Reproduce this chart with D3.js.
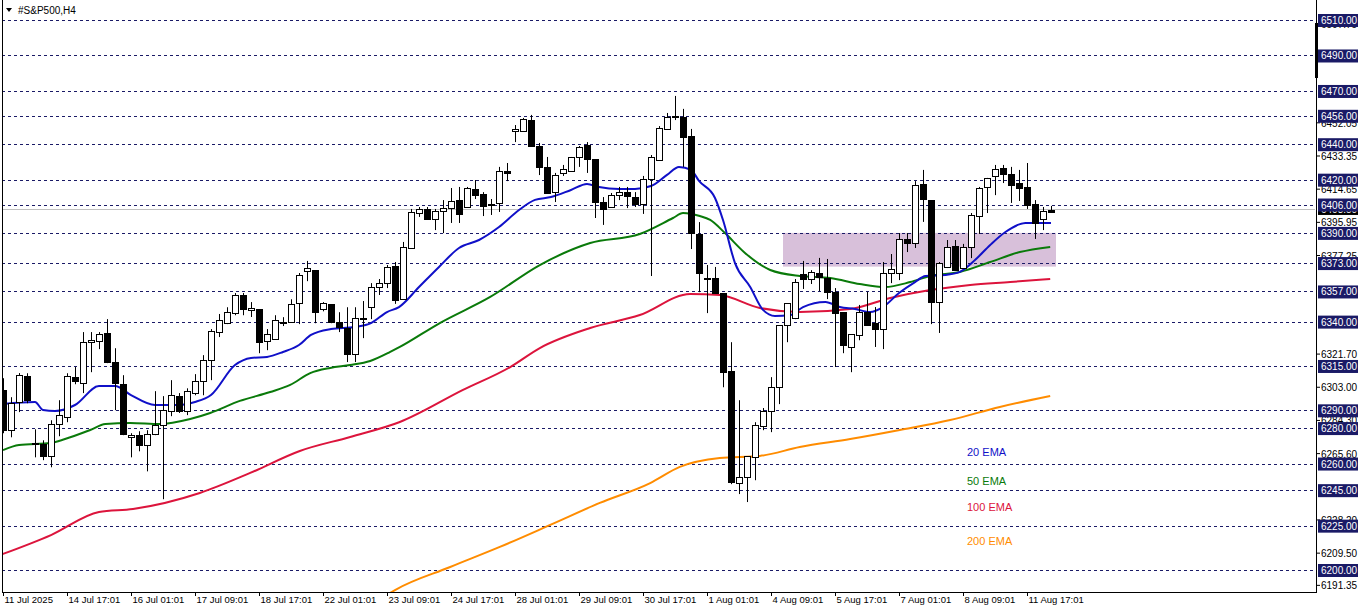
<!DOCTYPE html>
<html><head><meta charset="utf-8">
<script src="https://cdn.jsdelivr.net/npm/d3@7"></script>
<style>body{margin:0;background:#fff}svg{display:block;font-family:"Liberation Sans",Arial,sans-serif}</style>
</head><body><svg id="c" width="1362" height="611"></svg>
<script>
const opens=[6301.3,6278.8,6294.6,6309.2,6271.4,6270.9,6264.1,6282.2,6286.1,6308.6,6305.3,6328.4,6329.0,6333.5,6317.2,6304.7,6274.8,6276.0,6270.3,6276.5,6281.6,6289.5,6298.0,6289.5,6299.7,6306.4,6318.3,6334.1,6339.1,6344.8,6355.0,6346.5,6347.0,6329.0,6330.1,6339.7,6339.7,6350.4,6368.5,6369.0,6347.0,6349.9,6339.7,6336.3,6321.6,6341.4,6348.1,6359.5,6361.7,6371.3,6352.7,6381.5,6401.2,6403.5,6397.8,6402.4,6404.0,6408.5,6404.6,6414.7,6411.9,6406.3,6406.9,6424.9,6447.4,6447.4,6453.6,6439.0,6427.2,6413.0,6423.8,6424.9,6432.8,6439.5,6431.6,6407.4,6404.6,6411.3,6413.0,6410.2,6406.3,6420.4,6431.1,6448.6,6455.9,6455.3,6444.6,6389.4,6364.6,6364.6,6356.1,6312.1,6249.0,6252.4,6263.5,6281.1,6289.5,6303.0,6338.0,6342.0,6366.8,6364.0,6367.4,6364.6,6356.6,6345.4,6325.7,6332.5,6345.4,6339.2,6335.8,6367.4,6367.4,6386.6,6384.3,6417.6,6408.5,6351.1,6370.8,6382.6,6370.2,6382.0,6399.6,6415.9,6422.1,6426.6,6423.2,6418.1,6415.9,6406.3,6397.8,6402.9];
const highs=[6308.1,6297.4,6311.0,6310.9,6279.3,6273.1,6284.4,6295.7,6310.9,6314.4,6334.1,6334.1,6334.1,6341.4,6325.0,6309.8,6277.1,6278.2,6278.8,6300.8,6298.0,6307.0,6299.7,6302.4,6310.4,6321.1,6335.8,6344.3,6348.1,6356.1,6356.1,6351.0,6347.0,6335.8,6343.6,6342.5,6352.6,6367.4,6374.2,6369.0,6351.0,6349.9,6345.3,6348.1,6348.1,6351.6,6361.7,6364.0,6371.9,6373.6,6384.9,6403.5,6404.6,6404.6,6403.5,6408.5,6415.3,6415.9,6415.9,6419.8,6413.0,6409.1,6427.2,6429.4,6450.8,6454.8,6456.5,6440.7,6432.8,6423.8,6428.3,6432.8,6439.0,6441.2,6431.6,6410.2,6412.5,6415.9,6415.9,6413.0,6422.1,6433.9,6450.2,6457.6,6467.2,6459.9,6448.6,6396.1,6371.9,6370.8,6356.1,6328.4,6295.7,6264.1,6283.3,6291.3,6308.7,6338.0,6350.4,6364.0,6374.2,6369.0,6375.9,6375.3,6358.9,6345.4,6333.0,6349.4,6356.7,6348.2,6373.6,6378.1,6389.9,6389.9,6419.2,6425.5,6408.5,6373.6,6386.0,6386.0,6383.8,6401.2,6415.9,6421.0,6428.3,6428.3,6427.2,6425.5,6429.4,6408.5,6404.6,6405.2];
const lows=[6277.1,6274.8,6289.0,6294.0,6263.5,6261.9,6257.9,6275.4,6283.3,6304.7,6299.7,6311.5,6324.5,6316.6,6290.1,6276.0,6263.5,6266.9,6255.6,6276.0,6239.9,6286.7,6288.5,6287.3,6298.5,6298.5,6307.0,6331.3,6338.6,6343.6,6343.6,6342.6,6322.2,6323.9,6330.1,6337.5,6339.7,6338.6,6362.8,6339.1,6345.8,6339.1,6334.1,6317.2,6317.2,6330.7,6341.4,6355.0,6358.9,6350.0,6352.7,6381.5,6399.0,6397.8,6391.6,6389.9,6395.6,6395.6,6404.6,6409.1,6399.5,6400.1,6401.8,6419.2,6441.2,6447.4,6439.0,6422.6,6412.5,6407.4,6422.1,6424.9,6427.2,6423.8,6398.4,6394.5,6404.6,6408.5,6404.0,6404.6,6400.7,6365.7,6431.1,6453.6,6453.6,6427.2,6380.9,6356.6,6344.8,6356.1,6303.0,6248.4,6242.8,6238.3,6250.6,6278.8,6277.7,6293.5,6328.4,6341.4,6358.4,6361.2,6357.2,6352.7,6314.4,6322.2,6311.5,6329.5,6338.0,6325.7,6324.5,6361.7,6363.4,6379.2,6381.5,6396.2,6338.6,6333.6,6370.2,6369.0,6370.2,6375.8,6389.4,6401.2,6411.3,6418.1,6406.9,6408.0,6403.5,6386.6,6391.6,6401.8];
const closes=[6278.8,6294.0,6309.8,6295.7,6271.4,6264.1,6282.2,6287.3,6309.2,6306.4,6328.4,6329.5,6333.0,6317.2,6305.3,6276.5,6276.0,6270.3,6276.5,6281.6,6290.1,6298.5,6289.5,6300.8,6306.4,6318.3,6334.7,6340.8,6345.3,6355.0,6347.0,6347.6,6328.4,6333.0,6340.8,6339.7,6349.9,6366.2,6370.2,6345.3,6350.4,6339.7,6336.9,6321.6,6342.0,6342.0,6359.5,6361.7,6370.8,6352.1,6382.0,6401.7,6403.5,6397.8,6402.4,6404.0,6408.0,6400.7,6415.3,6411.3,6405.2,6406.3,6424.9,6423.8,6448.6,6454.2,6439.0,6427.2,6412.5,6422.6,6426.0,6432.8,6438.4,6431.6,6407.4,6403.5,6411.3,6413.0,6410.8,6406.3,6420.4,6432.8,6449.1,6455.3,6455.9,6444.0,6389.9,6367.4,6364.6,6356.1,6311.5,6249.5,6252.4,6264.1,6281.6,6289.5,6303.0,6338.0,6350.4,6362.3,6364.0,6367.9,6365.1,6356.6,6344.8,6326.8,6333.0,6345.4,6338.0,6335.8,6367.4,6369.6,6386.6,6384.3,6417.0,6409.1,6351.1,6373.0,6382.0,6369.0,6382.0,6400.1,6415.3,6421.0,6426.0,6423.2,6417.0,6415.3,6405.7,6395.6,6402.4,6401.8];
const ema20=[[0,6293.6],[4,6294.7],[5,6290.2],[6.5,6289.6],[9,6293.0],[12,6303.7],[14,6303.7],[16,6298.6],[19,6293.0],[22,6293.0],[24,6294.7],[26,6298.6],[29,6315.5],[31,6319.5],[33,6320.1],[35,6322.9],[37,6326.8],[38.5,6332.5],[41,6335.8],[44,6337.0],[46,6339.2],[48,6345.4],[49.5,6348.2],[52,6359.5],[54.5,6370.8],[57,6381.5],[59.5,6386.0],[62,6393.3],[64.5,6402.9],[66.5,6408.6],[68.5,6410.2],[71,6414.2],[73,6417.6],[74.5,6415.9],[77,6414.8],[79,6414.8],[81,6416.4],[83,6422.7],[84.5,6427.2],[86,6425.5],[87,6419.3],[89,6409.7],[90,6397.3],[91.5,6373.0],[93.4,6359.5],[95,6346.6],[96.5,6343.2],[98.4,6343.7],[100,6348.2],[102.8,6351.1],[104.6,6348.2],[106.5,6347.1],[108.4,6345.4],[110,6348.2],[112,6356.1],[114,6362.3],[115.3,6365.7],[117.8,6366.3],[119.6,6368.0],[121.5,6374.7],[123.4,6383.2],[125.3,6390.5],[127.8,6395.6],[131,6395.6]];
const ema50=[[0,6267.6],[2,6270.5],[6,6271.6],[7.75,6273.8],[10.9,6278.9],[12.8,6282.3],[15.9,6282.9],[19.6,6282.3],[23.4,6285.1],[25.9,6288.5],[29.6,6295.3],[33.4,6300.3],[35.9,6304.3],[38.4,6311.0],[40.9,6313.9],[43.4,6315.5],[45.9,6317.8],[48.4,6322.9],[49.6,6325.7],[54.6,6339.2],[60.9,6353.9],[67.1,6371.9],[73.4,6384.3],[79.6,6389.4],[83.75,6398.4],[85,6401.2],[87.1,6399.5],[88.4,6397.3],[90.25,6389.9],[92.75,6378.7],[95.9,6369.1],[99.6,6365.7],[103.4,6364.6],[107.1,6361.2],[110.25,6359.5],[113.4,6362.3],[115.9,6365.7],[119.6,6368.0],[123.4,6373.6],[127.1,6379.2],[130.9,6382.1]];
const ema100=[[-0.4,6208.4],[6,6219.7],[12,6232.7],[16.25,6234.4],[24.6,6243.4],[30.9,6254.7],[37.1,6267.1],[43.4,6275.0],[49.6,6283.4],[57.5,6301.5],[63.4,6314.4],[67.1,6325.1],[73.4,6336.4],[79.6,6343.7],[85.9,6355.6],[89.6,6355.0],[94.6,6347.7],[99.6,6345.4],[105.9,6347.1],[110.9,6353.3],[115.9,6357.8],[120.9,6360.7],[125.9,6362.3],[130.9,6364.0]];
const ema200=[[47,6183.0],[49,6188.7],[55.9,6201.7],[62.1,6213.0],[68.4,6225.4],[74.6,6237.8],[80.9,6249.0],[84.6,6258.1],[89.6,6263.1],[94.6,6264.3],[99.6,6269.3],[105.9,6273.8],[112.1,6278.9],[118.4,6284.5],[124.6,6291.9],[130.9,6298.1]];
const gridLevels=[6510,6490,6470,6456,6440,6420,6406,6390,6373,6357,6340,6315,6290,6280,6260,6245,6225,6200];
const scaleLabels=[6507.75,6489.05,6452.05,6433.35,6414.65,6395.95,6377.25,6321.70,6303.00,6284.30,6265.60,6228.20,6209.50,6191.35];
const lastPrice=6403.50;
const zone=[98,132,6371,6390];
const timeLabels=["11 Jul 2025","14 Jul 17:01","16 Jul 01:01","17 Jul 09:01","18 Jul 17:01","22 Jul 01:01","23 Jul 09:01","24 Jul 17:01","28 Jul 01:01","29 Jul 09:01","30 Jul 17:01","1 Aug 01:01","4 Aug 09:01","5 Aug 17:01","7 Aug 01:01","8 Aug 09:01","11 Aug 17:01"];
const emaLegend=[["20 EMA","#1010c8",452],["50 EMA","#0a7a0a",481],["100 EMA","#dc143c",507],["200 EMA","#ff8c00",541]];

const svg=d3.select("#c");
const W=1316,B=592;
const x=d3.scaleLinear().domain([0,1]).range([3,11]);
const y=d3.scaleLinear().domain([6200,6510]).range([570,20]);
svg.append("defs").append("clipPath").attr("id","cp").append("rect").attr("x",2).attr("y",0).attr("width",W-3).attr("height",B);
const g=svg.append("g").attr("clip-path","url(#cp)");
g.append("rect").attr("x",x(zone[0])-4).attr("width",x(zone[1])-x(zone[0])+1).attr("y",y(zone[3])).attr("height",y(zone[2])-y(zone[3])).attr("fill","#d8c0da");
gridLevels.forEach(v=>g.append("line").attr("x1",2).attr("x2",W-2).attr("y1",Math.round(y(v))+0.5).attr("y2",Math.round(y(v))+0.5).attr("stroke","#1a1a66").attr("stroke-dasharray","3,3"));
g.append("line").attr("x1",2).attr("x2",W).attr("y1",Math.round(y(lastPrice))+0.5).attr("y2",Math.round(y(lastPrice))+0.5).attr("stroke","#c0c0c0");
const line=d3.line().x(d=>x(d[0])).y(d=>y(d[1])).curve(d3.curveMonotoneX);
[[ema200,"#ff8c00"],[ema100,"#dc143c"],[ema50,"#0a7a0a"],[ema20,"#1010c8"]].forEach(([d,c])=>g.append("path").attr("d",line(d)).attr("fill","none").attr("stroke",c).attr("stroke-width",2));
opens.forEach((o,i)=>{
  const cx=Math.round(x(i))+0.5, c=closes[i];
  g.append("line").attr("x1",cx).attr("x2",cx).attr("y1",y(highs[i])).attr("y2",y(lows[i])).attr("stroke","#000");
  const t=Math.round(y(Math.max(o,c))), b=Math.round(y(Math.min(o,c)));
  g.append("rect").attr("x",cx-3).attr("y",t+0.5).attr("width",6).attr("height",Math.max(b-t,1)).attr("fill",c<o?"#000":"#fff").attr("stroke","#000").attr("stroke-width",1);
});
emaLegend.forEach(([t,c,yy])=>svg.append("text").attr("x",967).attr("y",yy+4).attr("fill",c).attr("font-size",11).text(t));
svg.append("line").attr("x1",2.5).attr("x2",2.5).attr("y1",0).attr("y2",B).attr("stroke","#000");
svg.append("line").attr("x1",W+0.5).attr("x2",W+0.5).attr("y1",0).attr("y2",B).attr("stroke","#000");
svg.append("line").attr("x1",2).attr("x2",W+1).attr("y1",B+0.5).attr("y2",B+0.5).attr("stroke","#000");
svg.append("rect").attr("x",W-1).attr("y",23).attr("width",3).attr("height",55).attr("fill","#000");
scaleLabels.forEach(v=>{const yy=y(v);
  svg.append("line").attr("x1",W).attr("x2",W+4).attr("y1",yy).attr("y2",yy).attr("stroke","#000");
  svg.append("text").attr("x",W+5).attr("y",yy+4).attr("font-size",10).attr("fill","#000").text(v.toFixed(2));});
svg.append("rect").attr("x",W+2).attr("y",y(lastPrice)-6).attr("width",40).attr("height",12).attr("fill","#000");
svg.append("text").attr("x",W+5).attr("y",y(lastPrice)+4).attr("font-size",10).attr("fill","#fff").text(lastPrice.toFixed(2));
gridLevels.forEach(v=>{const yy=y(v);
  svg.append("rect").attr("x",W+2).attr("y",yy-6).attr("width",40).attr("height",13).attr("fill","#1a1a66");
  svg.append("text").attr("x",W+5).attr("y",yy+4).attr("font-size",10).attr("fill","#fff").text(v.toFixed(2));});
timeLabels.forEach((t,k)=>{const xx=Math.round(x(k*8))+0.5;
  svg.append("line").attr("x1",xx).attr("x2",xx).attr("y1",B).attr("y2",B+4).attr("stroke","#000");
  svg.append("text").attr("x",xx+1).attr("y",603).attr("font-size",9.5).attr("fill","#000").text(t);});
svg.append("path").attr("d","M6,8 L12,8 L9,12 Z").attr("fill","#000");
svg.append("text").attr("x",18).attr("y",14).attr("font-size",10).attr("fill","#000").text("#S&P500,H4");
</script></body></html>
